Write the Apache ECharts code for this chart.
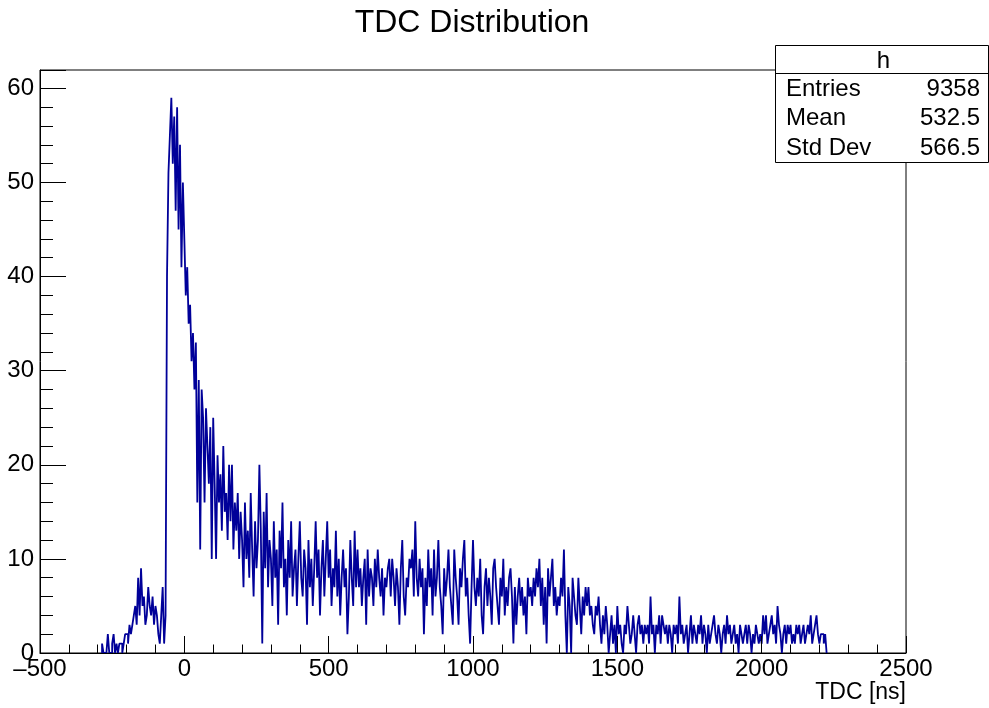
<!DOCTYPE html>
<html>
<head>
<meta charset="utf-8">
<title>TDC Distribution</title>
<script src="https://cdn.jsdelivr.net/npm/echarts@6/dist/echarts.min.js"></script>
<style>
  html, body { margin: 0; padding: 0; background: #fff; }
  #chart { width: 989px; height: 708px; }
</style>
</head>
<body>
<div id="chart"></div>
<script>
// Histogram binning (ns)
const binStart = -285;
const binWidth = 5;

// Bin contents, in consecutive runs starting at binStart
const countsPrePulse = [
  1,0,0,0,2,0,0,1,2,0,1,0,1,1,0,1,2,
  2,1,3,2,3,4,5,3,8,4,9,5,6,3,4,7,5,4,6,3,5,4,2,1,4,7,1,4
];
const countsPeak = [
  40,51,55,59,52,57,47,58,45,54,41,50,
  44,38,41,35,37,31,34,28,33,16,29,11,28,25,16,26,22,18,24,10
];
const countsPlateau = [
  25,18,10,21,16,19,13,22,15,17,12,20,14,20,11,16,13,17,10,15,
  12,7,16,10,13,8,17,11,6,14,9,12,20,13,1,15,9,17,7,12,
  10,5,14,8,11,3,13,9,16,7,10,4,12,8,14,6,9,11,5,10,
  14,8,6,11,9,3,12,7,10,5,9,14,8,11,4,9,12,6,10,14,
  8,11,5,9,7,13,6,10,4,8,11,7,9,2,6,12,8,5,13,7,
  11,7,9,5,8,10,3,11,6,9,8,5,10,7,11,8,6,9,4,8,
  7,9,10,6,10,8,5,9,7,3,9,12,6,4,8,7,10,9,11,6,
  14,8,6,10,7,9,2,8,5,11,7,9,4,11,6,8,12,7,5,2,
  9,6,8,11,7,5,3,11,8,6,3,9,7,10,12,6,8,4,1,7
];
const countsShoulder = [
  12,7,5,8,6,10,4,2,7,9,5,8,6,3,9,10,7,5,3,8,
  6,10,4,7,5,8,9,6,1,7,3,6,8,5,7,4,6,2,8,6,
  7,5,8,6,9,7,10,5,8,3,7,1,9,6,8,10,5,7,4,6,
  5,8,6,11,4,0,7,5,0,8,6,4,3,8,5,2,6,4,7,5,
  7,4,5,3,2,5,4,6,3,1,4,2,5,3,0,2,4,1,3,0
];
const countsTail = [
  5,2,3,1,0,3,2,5,3,1,2,4,2,0,3,4,2,3,1,3,
  2,3,1,6,2,3,0,3,2,4,1,4,3,2,3,1,3,2,0,3,
  2,3,1,6,2,3,1,2,3,0,2,4,1,3,2,1,3,2,4,1,
  3,2,0,3,1,2,3,4,2,1,3,2,0,2,3,1,4,2,3,1,
  2,3,1,2,0,3,2,1,2,3,1,3,2,0,2,1,3,2,1,2,
  1,4,2,4,1,2,3,4,2,3,1,5,3,2,0,2,3,1,3,2,
  3,1,2,1,3,2,3,1,2,3,1,2,3,2,4,1,2,3,4,2,1,2,2,1,2
];

// Axis ranges and ticks
const xRange = [-500, 2500];
const xStep = 500;
const yRange = [0, 61.95];
const yStep = 10;

// Statistics box text
const statsTitle = 'h';
const statsRows = [
  ['Entries', '9358'],
  ['Mean', '532.5'],
  ['Std Dev', '566.5']
];

const chartTitle = 'TDC Distribution';
const xTitle = 'TDC [ns]';

const counts = [].concat(countsPrePulse, countsPeak, countsPlateau, countsShoulder, countsTail);

// Histogram outline as step points at bin low edges, closed to zero at both ends
const points = [[binStart, 0]];
counts.forEach((c, i) => points.push([binStart + i * binWidth, c]));
points.push([binStart + counts.length * binWidth, 0]);

const FONT = 'Liberation Sans';
const ink = '#000';

const chart = echarts.init(document.getElementById('chart'), null, { renderer: 'canvas' });

const gridL = 40, gridR = 83, gridT = 70, gridB = 55;
const W = 989, H = 708;

const statsX = 775, statsY = 45, statsW = 213, statsH = 117, statsHead = 28;
const statsFont = '24px "' + FONT + '"';
const statsGraphics = [
  {
    type: 'rect', z: 100,
    shape: { x: statsX + 0.5, y: statsY + 0.5, width: statsW, height: statsH },
    style: { fill: '#fff', stroke: ink, lineWidth: 1 }
  },
  {
    type: 'line', z: 101,
    shape: { x1: statsX, y1: statsY + statsHead + 0.5, x2: statsX + statsW, y2: statsY + statsHead + 0.5 },
    style: { stroke: ink, lineWidth: 1 }
  },
  {
    type: 'text', z: 102,
    style: { x: statsX + statsW / 2 + 2, y: statsY + statsHead / 2 + 2, text: statsTitle,
      font: statsFont, fill: ink, align: 'center', verticalAlign: 'middle' }
  }
];
statsRows.forEach((row, i) => {
  const yy = statsY + statsHead + 16 + i * 29.5;
  statsGraphics.push({
    type: 'text', z: 102,
    style: { x: statsX + 11, y: yy, text: row[0], font: statsFont,
      fill: ink, align: 'left', verticalAlign: 'middle' }
  });
  statsGraphics.push({
    type: 'text', z: 102,
    style: { x: statsX + statsW - 8, y: yy, text: row[1], font: statsFont,
      fill: ink, align: 'right', verticalAlign: 'middle' }
  });
});

const option = {
  animation: false,
  backgroundColor: '#fff',
  grid: {
    left: gridL, right: gridR, top: gridT, bottom: gridB,
    show: true, borderColor: ink, borderWidth: 1, backgroundColor: 'transparent'
  },
  xAxis: {
    type: 'value', z: 10,
    min: xRange[0], max: xRange[1], interval: xStep,
    axisLine: { show: true, onZero: false, lineStyle: { color: ink, width: 1 } },
    axisTick: { show: true, inside: true, length: 17, lineStyle: { color: ink, width: 1 } },
    minorTick: { show: true, splitNumber: 5, length: 8.5, lineStyle: { color: ink, width: 1 } },
    splitLine: { show: false },
    axisLabel: {
      color: ink, fontFamily: FONT, fontSize: 24, margin: 4,
      formatter: v => String(v).replace('-', '\u2013')
    }
  },
  yAxis: {
    type: 'value', z: 10,
    min: yRange[0], max: yRange[1], interval: yStep,
    axisLine: { show: true, onZero: false, lineStyle: { color: ink, width: 1 } },
    axisTick: { show: true, inside: true, length: 26, lineStyle: { color: ink, width: 1 } },
    minorTick: { show: true, splitNumber: 5, length: 13, lineStyle: { color: ink, width: 1 } },
    splitLine: { show: false },
    axisLabel: {
      color: ink, fontFamily: FONT, fontSize: 24, margin: 6,
      showMaxLabel: false
    }
  },
  series: [{
    type: 'line',
    data: points,
    step: 'end',
    symbol: 'none',
    clip: true,
    lineStyle: { color: '#000099', width: 1.8 },
    z: 3
  }],
  graphic: [
    {
      type: 'text',
      style: { x: 472, y: 23, text: chartTitle, font: '32px "' + FONT + '"',
        fill: ink, align: 'center', verticalAlign: 'middle' }
    },
    {
      type: 'text',
      style: { x: W - gridR, y: 693, text: xTitle, font: '23px "' + FONT + '"',
        fill: ink, align: 'right', verticalAlign: 'middle' }
    }
  ].concat(statsGraphics)
};

chart.setOption(option);
</script>
</body>
</html>
